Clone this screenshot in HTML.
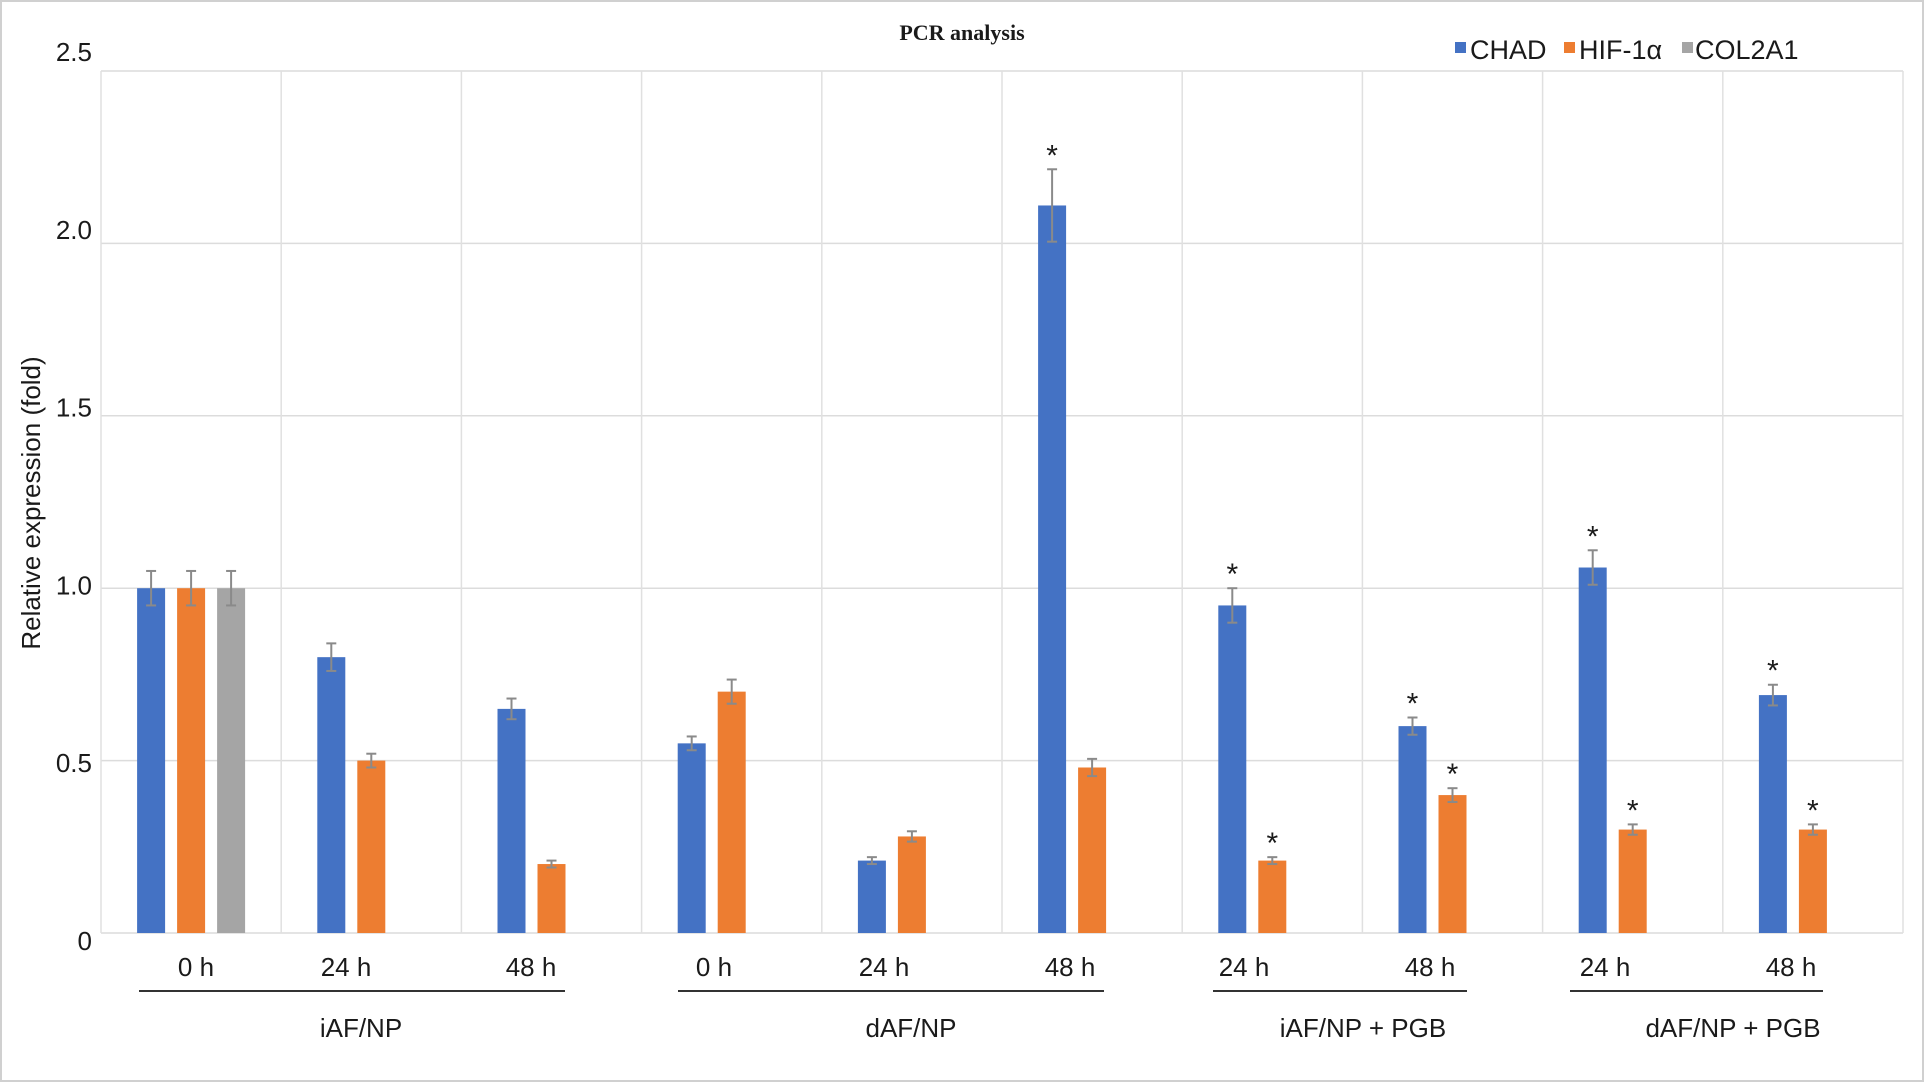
<!DOCTYPE html>
<html><head><meta charset="utf-8">
<style>
html,body{margin:0;padding:0;background:#fff;}
body{width:1925px;height:1083px;overflow:hidden;position:relative;}
svg text{font-family:"Liberation Sans",Arial,sans-serif;fill:#1a1a1a;}
</style></head>
<body>
<svg id="chart" width="1925" height="1083" xmlns="http://www.w3.org/2000/svg">
<rect x="1" y="1" width="1922" height="1080" fill="none" stroke="#d0d0d0" stroke-width="2"/>
<text x="962" y="40" text-anchor="middle" font-size="22" font-weight="bold" style="font-family:'Liberation Serif',serif">PCR analysis</text>
<g id="grid"></g>
<g id="yticks"></g>
<text transform="translate(40,503) rotate(-90)" text-anchor="middle" font-size="26">Relative expression (fold)</text>
<g id="bars"></g>
<g font-size="26" text-anchor="middle">
<text x="196" y="976">0 h</text><text x="346" y="976">24 h</text><text x="531" y="976">48 h</text>
<text x="714" y="976">0 h</text><text x="884" y="976">24 h</text><text x="1070" y="976">48 h</text>
<text x="1244" y="976">24 h</text><text x="1430" y="976">48 h</text>
<text x="1605" y="976">24 h</text><text x="1791" y="976">48 h</text>
</g>
<g stroke="#333" stroke-width="2">
<line x1="139" y1="991" x2="565" y2="991"/><line x1="678" y1="991" x2="1104" y2="991"/>
<line x1="1213" y1="991" x2="1467" y2="991"/><line x1="1570" y1="991" x2="1823" y2="991"/>
</g>
<g font-size="26" text-anchor="middle">
<text x="361" y="1037">iAF/NP</text><text x="911" y="1037">dAF/NP</text>
<text x="1363" y="1037">iAF/NP + PGB</text><text x="1733" y="1037">dAF/NP + PGB</text>
</g>
<g font-size="27">
<rect x="1455" y="42" width="11" height="11" fill="#4472C4"/><text x="1470" y="59">CHAD</text>
<rect x="1564" y="42" width="11" height="11" fill="#ED7D31"/><text x="1579" y="59">HIF-1α</text>
<rect x="1682" y="42" width="11" height="11" fill="#A5A5A5"/><text x="1695" y="59">COL2A1</text>
</g>
</svg>
<script>
const categories=["iAF/NP 0h","iAF/NP 24h","iAF/NP 48h","dAF/NP 0h","dAF/NP 24h","dAF/NP 48h","iAF/NP+PGB 24h","iAF/NP+PGB 48h","dAF/NP+PGB 24h","dAF/NP+PGB 48h"];
const chad=[1.0,0.8,0.65,0.55,0.21,2.11,0.95,0.6,1.06,0.69];
const chadErr=[0.05,0.04,0.03,0.02,0.01,0.105,0.05,0.025,0.05,0.03];
const chadSig=[0,0,0,0,0,1,1,1,1,1];
const hif=[1.0,0.5,0.2,0.7,0.28,0.48,0.21,0.4,0.3,0.3];
const hifErr=[0.05,0.02,0.01,0.035,0.015,0.025,0.01,0.02,0.015,0.015];
const hifSig=[0,0,0,0,0,0,1,1,1,1];
const col2a1=[1.0,null,null,null,null,null,null,null,null,null];
const col2a1Err=[0.05,null,null,null,null,null,null,null,null,null];
const yTicks=[0,0.5,1.0,1.5,2.0,2.5];
const yTickLabels=["0","0.5","1.0","1.5","2.0","2.5"];

const NS="http://www.w3.org/2000/svg";
const left=101,right=1903,y0=933,yTop=71,yMax=2.5;
const slotW=(right-left)/categories.length;
const yS=v=>y0-(v/yMax)*(y0-yTop);
const xC=i=>left+slotW*(i+0.5);
function mk(tag,attrs,parent){const e=document.createElementNS(NS,tag);for(const k in attrs)e.setAttribute(k,attrs[k]);parent.appendChild(e);return e;}
const grid=document.getElementById('grid'),yt=document.getElementById('yticks'),bars=document.getElementById('bars');
yTicks.forEach((t,i)=>{
  const l=mk('line',{x1:left,x2:right,y1:yS(t),y2:yS(t),stroke:'#dcdcdc','stroke-width':1.5},grid);
  
  
  const ly=52+(yMax-t)/0.5*177.8;
  const tx=mk('text',{x:92,y:ly+9,'text-anchor':'end','font-size':26},yt);
  tx.textContent=yTickLabels[i];
  
  
});
for(let i=0;i<=categories.length;i++){
  const x=left+slotW*i;
  const l=mk('line',{x1:x,x2:x,y1:yTop,y2:y0,stroke:'#e0e0e0','stroke-width':1.5},grid);
  
  
}
const series=[{v:chad,e:chadErr,s:chadSig,c:'#4472C4',off:-40,n:'chad'},{v:hif,e:hifErr,s:hifSig,c:'#ED7D31',off:0,n:'hif1a'},{v:col2a1,e:col2a1Err,s:null,c:'#A5A5A5',off:40,n:'col2a1'}];
const bw=28;
series.forEach(se=>{
  se.v.forEach((v,i)=>{
    if(v==null)return;
    const cx=xC(i)+se.off;
    const r=mk('rect',{x:cx-bw/2,y:yS(v),width:bw,height:y0-yS(v),fill:se.c},bars);
    
    
    const err=se.e[i]||0;
    const g=mk('g',{stroke:'#8a8a8a','stroke-width':2},bars);
    
    
    mk('line',{x1:cx,x2:cx,y1:yS(v+err),y2:yS(v-err)},g);
    mk('line',{x1:cx-5,x2:cx+5,y1:yS(v+err),y2:yS(v+err)},g);
    mk('line',{x1:cx-5,x2:cx+5,y1:yS(v-err),y2:yS(v-err)},g);
    if(se.s&&se.s[i]){
      const a=mk('text',{x:cx,y:yS(v+err)-4,'text-anchor':'middle','font-size':30,fill:'#333'},bars);
      a.textContent='*';
      
      
    }
  });
});
</script>
</body></html>
